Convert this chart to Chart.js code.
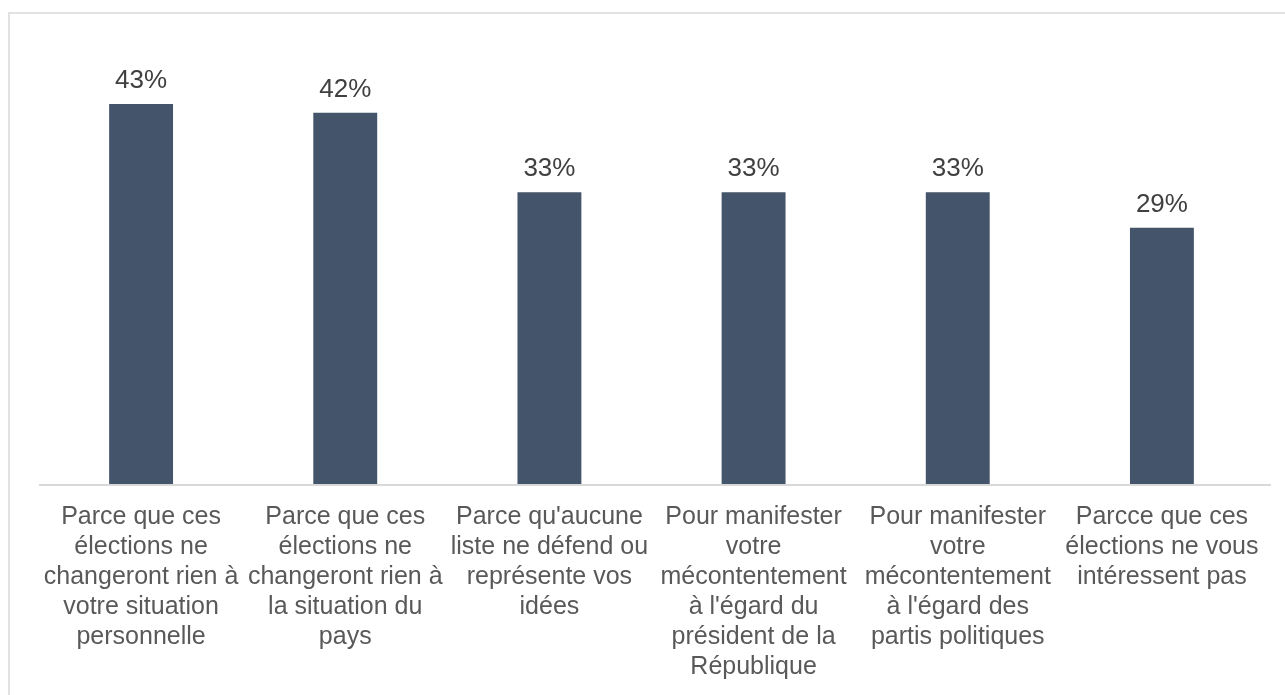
<!DOCTYPE html>
<html>
<head>
<meta charset="utf-8">
<script src="https://cdn.jsdelivr.net/npm/chart.js@4"></script>
<style>
  html, body { margin: 0; padding: 0; background: #ffffff; overflow: hidden; }
  #wrap { position: relative; width: 1285px; height: 695px; }
  #frame { position: absolute; left: 8px; top: 12px; width: 1400px; height: 800px; border: 2px solid #e2e2e2; box-sizing: border-box; }
  #cv { position: absolute; left: 0; top: 0; }
</style>
</head>
<body>
<div id="wrap">
  <div id="frame"></div>
  <canvas id="cv" width="1285" height="695"></canvas>
</div>
<script>
const categories = [
  ["Parce que ces", "élections ne", "changeront rien à", "votre situation", "personnelle"],
  ["Parce que ces", "élections ne", "changeront rien à", "la situation du", "pays"],
  ["Parce qu'aucune", "liste ne défend ou", "représente vos", "idées"],
  ["Pour manifester", "votre", "mécontentement", "à l'égard du", "président de la", "République"],
  ["Pour manifester", "votre", "mécontentement", "à l'égard des", "partis politiques"],
  ["Parcce que ces", "élections ne vous", "intéressent pas"]
];
const values = [43, 42, 33, 33, 33, 29];
const valueLabels = ["43%", "42%", "33%", "33%", "33%", "29%"];

const FONT = "'Liberation Sans', Arial, Helvetica, sans-serif";

const valueLabelPlugin = {
  id: 'valueLabels',
  afterDatasetsDraw(chart) {
    const ctx = chart.ctx;
    const meta = chart.getDatasetMeta(0);
    ctx.save();
    ctx.font = "26px " + FONT;
    ctx.fillStyle = "#404040";
    ctx.textAlign = "center";
    ctx.textBaseline = "alphabetic";
    meta.data.forEach((bar, i) => {
      ctx.fillText(valueLabels[i], bar.x, bar.y - 16);
    });
    ctx.restore();
  }
};

const axisLinePlugin = {
  id: 'axisLine',
  beforeDatasetsDraw(chart) {
    const ctx = chart.ctx;
    const a = chart.chartArea;
    ctx.save();
    ctx.strokeStyle = '#d9d9d9';
    ctx.lineWidth = 2;
    ctx.beginPath();
    ctx.moveTo(a.left, a.bottom + 1);
    ctx.lineTo(a.right + 7, a.bottom + 1);
    ctx.stroke();
    ctx.restore();
  }
};

new Chart(document.getElementById('cv'), {
  type: 'bar',
  data: {
    labels: categories,
    datasets: [{
      data: values,
      backgroundColor: '#44546A',
      borderWidth: 0,
      categoryPercentage: 1.0,
      barPercentage: 0.313
    }]
  },
  options: {
    responsive: false,
    animation: false,
    devicePixelRatio: 1,
    layout: { padding: { left: 39, right: 21, top: 42, bottom: 0 } },
    plugins: { legend: { display: false }, tooltip: { enabled: false } },
    scales: {
      y: {
        display: false,
        min: 0,
        max: 50
      },
      x: {
        grid: { display: false, drawTicks: false },
        border: { display: false },
        ticks: {
          color: '#595959',
          font: { family: FONT, size: 25, lineHeight: 1.2 },
          padding: 18,
          maxRotation: 0,
          autoSkip: false
        },
        afterFit(scale) { scale.height = 211; }
      }
    }
  },
  plugins: [axisLinePlugin, valueLabelPlugin]
});
</script>
</body>
</html>
